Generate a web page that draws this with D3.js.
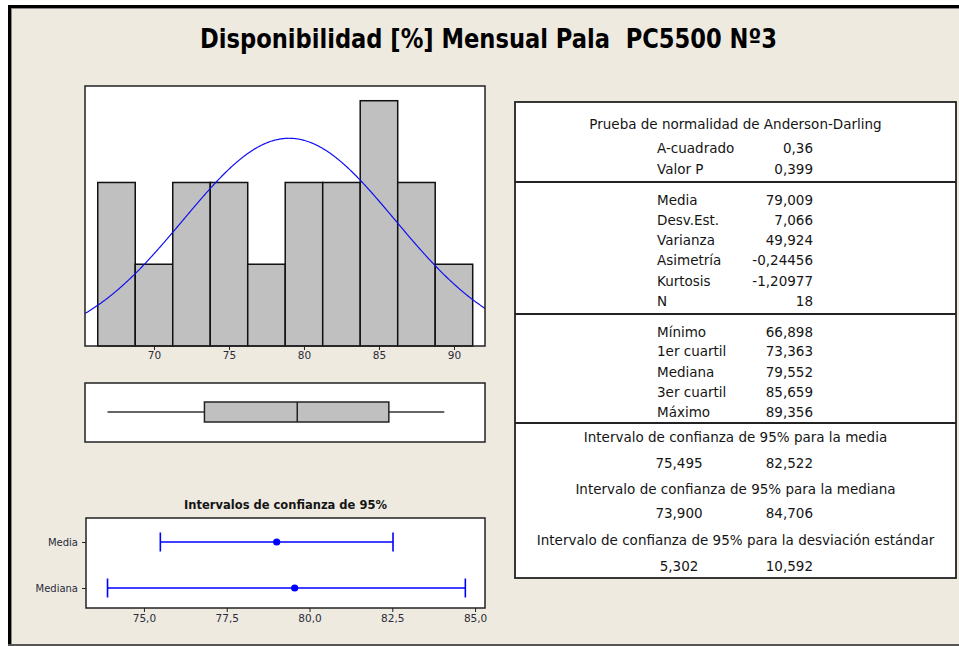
<!DOCTYPE html>
<html>
<head>
<meta charset="utf-8">
<script src="https://cdn.jsdelivr.net/npm/d3@7"></script>
<style>
  html, body { margin: 0; padding: 0; background: #ffffff; }
  svg { display: block; }
  text { font-family: "DejaVu Sans", "Noto Sans", sans-serif; fill: #151515; }
</style>
</head>
<body>
<svg id="chart" width="959" height="646"></svg>
<script>
// ---- Data -------------------------------------------------------------
const chartTitle = "Disponibilidad [%] Mensual Pala  PC5500 Nº3";

// Histogram bins (midpoints, width 2.5) and monthly counts
const binMids = [67.5, 70, 72.5, 75, 77.5, 80, 82.5, 85, 87.5, 90];
const binCounts = [2, 1, 2, 2, 1, 2, 2, 3, 2, 1];
const binWidth = 2.5;
const histTicks = [70, 75, 80, 85, 90];

// Summary statistics
const sampleN = 18;
const mean = 79.009;
const stdDev = 7.066;
const variance = 49.924;
const skewness = -0.24456;
const kurtosis = -1.20977;
const adSquared = 0.36;
const pValue = 0.399;
const minimum = 66.898;
const q1 = 73.363;
const median = 79.552;
const q3 = 85.659;
const maximum = 89.356;

// 95% confidence intervals
const ciMean = [75.495, 82.522];
const ciMedian = [73.900, 84.706];
const ciStdDev = [5.302, 10.592];
const ciTicks = [75, 77.5, 80, 82.5, 85];
const ciRows = ["Media", "Mediana"];

// ---- Setup ------------------------------------------------------------
const loc = d3.formatLocale({ decimal: ",", thousands: ".", grouping: [3], currency: ["", ""], minus: "-" });
const fmt = d => loc.format(`.${d}f`);

const svg = d3.select("#chart");
const W = 959, H = 646;

// window background and frame
svg.append("rect").attr("x", 8).attr("y", 5).attr("width", W - 8).attr("height", H - 5).attr("fill", "#EEEAE0");
svg.append("rect").attr("x", 8).attr("y", 5).attr("width", W - 8).attr("height", 3).attr("fill", "#000");
svg.append("rect").attr("x", 8).attr("y", 5).attr("width", 3).attr("height", H - 5).attr("fill", "#000");
svg.append("rect").attr("x", 11).attr("y", 8).attr("width", 1).attr("height", H - 8).attr("fill", "#8a8a8a");
svg.append("rect").attr("x", 11).attr("y", 8).attr("width", W - 11).attr("height", 1).attr("fill", "#8a8a8a");
svg.append("rect").attr("x", 8).attr("y", H - 2).attr("width", W - 8).attr("height", 2).attr("fill", "#555");

// title
svg.append("text")
  .attr("x", 488.5).attr("y", 48)
  .attr("text-anchor", "middle")
  .attr("textLength", 577).attr("lengthAdjust", "spacingAndGlyphs")
  .style("white-space", "pre")
  .style("font-family", '"Liberation Sans Narrow", "DejaVu Sans Condensed", "DejaVu Sans", sans-serif')
  .style("font-weight", "bold").style("font-size", "27px")
  .style("fill", "#000")
  .text(chartTitle);

// ---- Histogram with fitted normal curve -------------------------------
const hist = { x0: 85, x1: 485, y0: 86, y1: 346 };
const hx = d3.scaleLinear().domain([65.4, 92.07]).range([hist.x0, hist.x1]);
const hy = d3.scaleLinear().domain([0, 3.18]).range([hist.y1, hist.y0]);

svg.append("rect")
  .attr("x", hist.x0).attr("y", hist.y0)
  .attr("width", hist.x1 - hist.x0).attr("height", hist.y1 - hist.y0)
  .attr("fill", "#fff");

svg.append("clipPath").attr("id", "histClip")
  .append("rect").attr("x", hist.x0).attr("y", hist.y0)
  .attr("width", hist.x1 - hist.x0).attr("height", hist.y1 - hist.y0);

svg.append("g").selectAll("rect")
  .data(binMids.map((m, i) => ({ m, c: binCounts[i] })))
  .join("rect")
  .attr("x", d => hx(d.m - binWidth / 2))
  .attr("width", d => hx(d.m + binWidth / 2) - hx(d.m - binWidth / 2))
  .attr("y", d => hy(d.c))
  .attr("height", d => hy(0) - hy(d.c))
  .attr("fill", "#C0C0C0").attr("stroke", "#111").attr("stroke-width", 1.5);

// normal density scaled to counts (N * bin width)
const normalScale = sampleN * binWidth / (stdDev * Math.sqrt(2 * Math.PI));
const curvePts = d3.range(hx.domain()[0], hx.domain()[1] + 0.05, 0.05)
  .map(v => [v, normalScale * Math.exp(-0.5 * ((v - mean) / stdDev) ** 2)]);
svg.append("path")
  .attr("clip-path", "url(#histClip)")
  .attr("d", d3.line().x(d => hx(d[0])).y(d => hy(d[1]))(curvePts))
  .attr("fill", "none").attr("stroke", "#1010F0").attr("stroke-width", 1.2);

svg.append("rect")
  .attr("x", hist.x0).attr("y", hist.y0)
  .attr("width", hist.x1 - hist.x0).attr("height", hist.y1 - hist.y0)
  .attr("fill", "none").attr("stroke", "#222").attr("stroke-width", 1.5);

const hAxis = svg.append("g").attr("transform", `translate(0,${hist.y1})`)
  .call(d3.axisBottom(hx).tickValues(histTicks).tickSize(4).tickPadding(2).tickFormat(d3.format("d")));
hAxis.select(".domain").remove();
hAxis.selectAll("line").attr("stroke", "#222");
hAxis.selectAll("text").style("font-size", "10.5px").style("fill", "#2a2a3a");

// ---- Box plot ---------------------------------------------------------
const box = { x0: 85, x1: 485, y0: 383, y1: 442 };
svg.append("rect")
  .attr("x", box.x0).attr("y", box.y0)
  .attr("width", box.x1 - box.x0).attr("height", box.y1 - box.y0)
  .attr("fill", "#fff").attr("stroke", "#222").attr("stroke-width", 1.5);
const boxMid = 412, boxHalf = 10;
svg.append("line").attr("x1", hx(minimum)).attr("x2", hx(q1)).attr("y1", boxMid).attr("y2", boxMid)
  .attr("stroke", "#333").attr("stroke-width", 1.5);
svg.append("line").attr("x1", hx(q3)).attr("x2", hx(maximum)).attr("y1", boxMid).attr("y2", boxMid)
  .attr("stroke", "#333").attr("stroke-width", 1.5);
svg.append("rect")
  .attr("x", hx(q1)).attr("y", boxMid - boxHalf)
  .attr("width", hx(q3) - hx(q1)).attr("height", 2 * boxHalf)
  .attr("fill", "#C0C0C0").attr("stroke", "#222").attr("stroke-width", 1.5);
svg.append("line").attr("x1", hx(median)).attr("x2", hx(median))
  .attr("y1", boxMid - boxHalf).attr("y2", boxMid + boxHalf)
  .attr("stroke", "#222").attr("stroke-width", 1.5);

// ---- Confidence interval plot -----------------------------------------
const ci = { x0: 86, x1: 485, y0: 518, y1: 608 };
const cx = d3.scaleLinear().domain([73.25, 85.3]).range([ci.x0, ci.x1]);
const cy = d3.scalePoint().domain(ciRows).range([542, 588]);

svg.append("text")
  .attr("x", (ci.x0 + ci.x1) / 2).attr("y", 509)
  .attr("text-anchor", "middle")
  .style("font-weight", "bold").style("font-size", "11.5px")
  .text("Intervalos de confianza de 95%");

svg.append("rect")
  .attr("x", ci.x0).attr("y", ci.y0)
  .attr("width", ci.x1 - ci.x0).attr("height", ci.y1 - ci.y0)
  .attr("fill", "#fff").attr("stroke", "#222").attr("stroke-width", 1.5);

const ciData = [
  { row: "Media", lo: ciMean[0], hi: ciMean[1], est: mean },
  { row: "Mediana", lo: ciMedian[0], hi: ciMedian[1], est: median }
];
const ciG = svg.append("g").selectAll("g").data(ciData).join("g");
ciG.append("line")
  .attr("x1", d => cx(d.lo)).attr("x2", d => cx(d.hi))
  .attr("y1", d => cy(d.row)).attr("y2", d => cy(d.row))
  .attr("stroke", "#0000FF").attr("stroke-width", 1.6);
ciG.append("line")
  .attr("x1", d => cx(d.lo)).attr("x2", d => cx(d.lo))
  .attr("y1", d => cy(d.row) - 9.5).attr("y2", d => cy(d.row) + 9.5)
  .attr("stroke", "#0000FF").attr("stroke-width", 1.6);
ciG.append("line")
  .attr("x1", d => cx(d.hi)).attr("x2", d => cx(d.hi))
  .attr("y1", d => cy(d.row) - 9.5).attr("y2", d => cy(d.row) + 9.5)
  .attr("stroke", "#0000FF").attr("stroke-width", 1.6);
ciG.append("circle")
  .attr("cx", d => cx(d.est)).attr("cy", d => cy(d.row)).attr("r", 3.6)
  .attr("fill", "#0000FF");

const cxAxis = svg.append("g").attr("transform", `translate(0,${ci.y1})`)
  .call(d3.axisBottom(cx).tickValues(ciTicks).tickSize(4).tickPadding(3).tickFormat(fmt(1)));
cxAxis.select(".domain").remove();
cxAxis.selectAll("line").attr("stroke", "#222");
cxAxis.selectAll("text").style("font-size", "10.5px").style("fill", "#2a2a3a");

const cyAxis = svg.append("g").attr("transform", `translate(${ci.x0},0)`)
  .call(d3.axisLeft(cy).tickSize(4).tickPadding(4));
cyAxis.select(".domain").remove();
cyAxis.selectAll("line").attr("stroke", "#222");
cyAxis.selectAll("text").style("font-size", "10px").style("fill", "#2a2a3a");

// ---- Statistics table -------------------------------------------------
const tbl = { x0: 515, x1: 956, y0: 102, y1: 578 };
svg.append("rect")
  .attr("x", tbl.x0).attr("y", tbl.y0)
  .attr("width", tbl.x1 - tbl.x0).attr("height", tbl.y1 - tbl.y0)
  .attr("fill", "#fff").attr("stroke", "#222").attr("stroke-width", 1.8);
[182, 314, 423].forEach(y => {
  svg.append("line").attr("x1", tbl.x0).attr("x2", tbl.x1).attr("y1", y).attr("y2", y)
    .attr("stroke", "#222").attr("stroke-width", 2);
});

const labelX = 657, valueX = 813, ciLeftX = 679, centerX = 735.5;
const tableFont = "13.5px";

const statRows = [
  { y: 148, label: "A-cuadrado", value: fmt(2)(adSquared) },
  { y: 169, label: "Valor P", value: fmt(3)(pValue) },
  { y: 200, label: "Media", value: fmt(3)(mean) },
  { y: 220, label: "Desv.Est.", value: fmt(3)(stdDev) },
  { y: 240, label: "Varianza", value: fmt(3)(variance) },
  { y: 260, label: "Asimetría", value: fmt(5)(skewness) },
  { y: 281, label: "Kurtosis", value: fmt(5)(kurtosis) },
  { y: 301, label: "N", value: fmt(0)(sampleN) },
  { y: 332, label: "Mínimo", value: fmt(3)(minimum) },
  { y: 351, label: "1er cuartil", value: fmt(3)(q1) },
  { y: 372, label: "Mediana", value: fmt(3)(median) },
  { y: 392, label: "3er cuartil", value: fmt(3)(q3) },
  { y: 412, label: "Máximo", value: fmt(3)(maximum) }
];
const headings = [
  { y: 124, text: "Prueba de normalidad de Anderson-Darling" },
  { y: 437, text: "Intervalo de confianza de 95% para la media" },
  { y: 489, text: "Intervalo de confianza de 95% para la mediana" },
  { y: 540, text: "Intervalo de confianza de 95% para la desviación estándar" }
];
const intervalRows = [
  { y: 463, lo: fmt(3)(ciMean[0]), hi: fmt(3)(ciMean[1]) },
  { y: 513, lo: fmt(3)(ciMedian[0]), hi: fmt(3)(ciMedian[1]) },
  { y: 566, lo: fmt(3)(ciStdDev[0]), hi: fmt(3)(ciStdDev[1]) }
];

const tg = svg.append("g").style("font-size", tableFont);
tg.selectAll("text.head").data(headings).join("text").attr("class", "head")
  .attr("x", centerX).attr("y", d => d.y).attr("dy", "0.35em")
  .attr("text-anchor", "middle").text(d => d.text);
tg.selectAll("text.lab").data(statRows).join("text").attr("class", "lab")
  .attr("x", labelX).attr("y", d => d.y).attr("dy", "0.35em").text(d => d.label);
tg.selectAll("text.val").data(statRows).join("text").attr("class", "val")
  .attr("x", valueX).attr("y", d => d.y).attr("dy", "0.35em")
  .attr("text-anchor", "end").text(d => d.value);
tg.selectAll("text.lo").data(intervalRows).join("text").attr("class", "lo")
  .attr("x", ciLeftX).attr("y", d => d.y).attr("dy", "0.35em")
  .attr("text-anchor", "middle").text(d => d.lo);
tg.selectAll("text.hi").data(intervalRows).join("text").attr("class", "hi")
  .attr("x", valueX).attr("y", d => d.y).attr("dy", "0.35em")
  .attr("text-anchor", "end").text(d => d.hi);
</script>
</body>
</html>
